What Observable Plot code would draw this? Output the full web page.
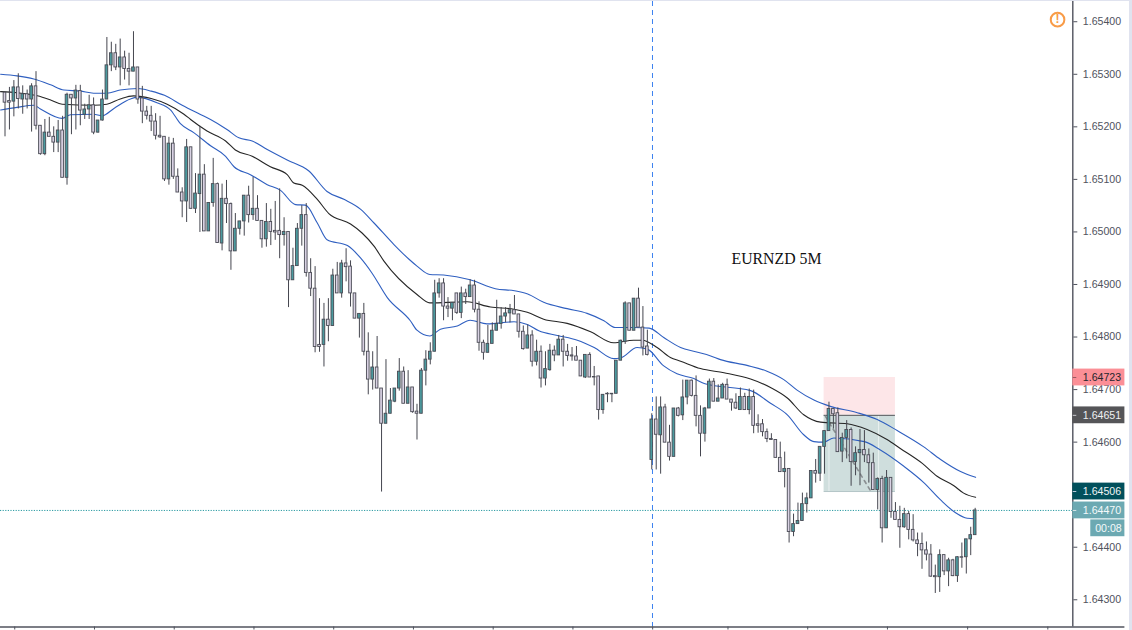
<!DOCTYPE html>
<html><head><meta charset="utf-8">
<script src="https://cdn.jsdelivr.net/npm/d3@7"></script>
<script src="https://cdn.jsdelivr.net/npm/@observablehq/plot@0.6"></script>
<style>
html,body{margin:0;padding:0;background:#e0e3ef;overflow:hidden}
#c{position:absolute;left:0;top:1px;width:1129px;height:629px;background:#fff}
svg{display:block;background:#fff}
</style></head><body><div id="c"></div>
<script>
// prices are stored as points above 1.64000 (1 point = 0.00001)
const base = 1.64;
const open = [1265,1249,1248,1275,1252,1262,1252,1277,1202,1148,
1189,1181,1170,1193,1103,1261,1254,1268,1223,1233,
1241,1189,1212,1252,1317,1340,1313,1332,1310,1305,
1313,1254,1229,1221,1210,1183,1181,1100,1168,1105,
1075,1058,1161,1044,1072,1109,1001,1055,1091,978,
1063,1053,963,1006,1020,1069,1032,1044,1021,986,
1019,1002,1002,994,1000,908,935,1006,1032,922,
892,785,785,833,821,917,883,940,934,883,
835,844,772,719,742,702,635,654,677,702,
734,673,704,658,654,736,757,772,883,902,
858,854,883,846,883,876,898,852,789,770,
787,812,825,839,845,851,843,810,778,803,
753,772,721,737,774,765,795,772,765,763,
755,723,766,724,725,661,692,692,692,755,
791,864,812,873,818,782,566,643,613,666,
599,572,664,651,685,717,688,650,616,664,
715,677,683,709,681,675,661,686,661,686,
634,634,619,606,604,570,543,549,429,444,
450,482,493,545,540,591,621,663,655,582,
608,623,562,579,585,575,560,509,530,436,
532,467,452,438,463,433,413,406,394,386,
345,343,385,354,375,345,381,381,415,423];
const close = [1246,1246,1275,1253,1262,1252,1277,1202,1148,1189,
1181,1170,1193,1103,1261,1254,1269,1231,1233,1241,
1189,1212,1252,1317,1340,1313,1332,1310,1305,1313,
1252,1229,1221,1210,1183,1180,1100,1168,1105,1075,
1058,1161,1044,1073,1109,1001,1055,1091,979,1063,
1053,963,1006,1020,1069,1032,1044,1021,986,1019,
1000,999,994,1000,908,935,1006,1032,922,892,
781,781,833,821,917,883,940,933,883,835,
844,772,719,742,702,635,654,679,702,734,
673,704,657,654,736,757,772,883,902,858,
854,865,846,883,876,898,852,789,770,787,
812,825,839,845,851,843,810,777,803,753,
772,721,739,774,765,795,772,764,763,755,
725,766,723,723,661,690,691,691,755,793,
864,812,873,818,780,766,643,614,666,599,
572,664,650,685,717,688,650,616,664,715,
677,683,709,681,675,664,686,661,686,631,
631,619,606,604,570,543,549,429,444,450,
482,493,545,540,591,621,663,653,581,608,
623,562,579,585,575,560,509,530,436,532,
467,452,438,463,433,413,406,394,386,344,
343,385,354,375,345,381,380,415,423,470];
const high = [1265,1275,1288,1301,1278,1270,1282,1305,1202,1214,
1218,1200,1212,1220,1264,1261,1279,1279,1243,1260,
1255,1212,1270,1370,1361,1357,1367,1344,1340,1381,
1313,1277,1239,1239,1225,1220,1181,1180,1178,1120,
1084,1176,1161,1111,1201,1128,1055,1140,1093,1091,
1098,1055,1035,1020,1069,1087,1104,1069,1021,1054,
1043,1058,1082,1027,1000,969,1016,1050,1054,949,
934,873,864,873,929,942,946,968,945,883,
844,864,808,772,801,702,757,702,702,759,
743,736,704,672,740,774,789,908,911,911,
875,865,883,895,891,909,908,867,794,822,
827,870,856,856,862,879,843,821,823,812,
794,783,772,786,783,803,803,786,780,782,
755,766,770,744,725,690,694,692,755,794,
867,864,873,893,858,813,654,686,686,672,
632,664,666,718,717,718,726,669,666,720,
721,709,712,720,681,692,703,693,701,699,
652,643,625,616,604,600,581,549,463,484,
503,503,546,567,591,621,676,663,665,617,
641,627,591,624,622,587,579,532,535,546,
532,485,478,474,468,462,427,427,410,405,
366,395,385,379,377,382,408,415,438,474];
const low = [1181,1194,1219,1234,1224,1234,1190,1194,1146,1145,
1181,1151,1151,1103,1089,1185,1194,1202,1214,1214,
1185,1188,1211,1252,1305,1307,1278,1289,1278,1305,
1243,1206,1213,1191,1175,1178,1096,1089,1100,1075,
1027,1018,1043,1035,999,1001,1001,1047,979,964,
1016,927,963,994,992,1017,1022,1021,969,971,
974,984,949,973,856,908,935,973,914,877,
770,771,743,791,821,883,874,905,857,835,
798,764,690,699,702,505,635,654,675,697,
673,673,655,604,654,707,747,772,874,831,
837,831,843,835,862,876,846,773,756,770,
787,812,815,827,827,843,798,775,778,743,
745,703,707,735,753,765,743,754,754,755,
725,721,723,707,642,653,675,675,692,755,
786,812,812,818,764,764,547,547,539,599,
564,572,648,641,671,686,629,572,600,664,
677,677,683,681,659,662,661,661,652,616,
617,610,599,604,570,543,513,408,420,444,
450,465,493,522,525,539,621,625,581,561,
568,516,536,517,561,522,509,471,408,436,
455,452,398,436,414,410,382,358,374,343,
312,314,346,325,344,333,360,349,384,423];

const upperAt = [-1,2.7,6.5,10.3,13.3,17,20,23,26,30,33,36,40,44,46.4,50.1,52.8,55.8,59.2,63.7,68.6,72.7,76.5,80.3,83.3,87.8,91.2,93,95.9,99,105,110.7,115,118,121.6,126.9,131.4,135.2,137.8,141.9,145.4,148.7,152.5,155.9,159.3,161.5,167.5,172,175.8,178.8,182.6,186.3,192.4,196.9,201.4,207.4,211.2,215.7,219.1];
const upperVal = [1300,1297,1291,1280,1270,1268,1264,1264,1270,1273,1268,1260,1241,1224,1214,1195,1179,1173,1157,1137,1116,1077,1062,1043,1017,976,948,935,919,918,909,892,888,882,866,854,845,831,818,818,817,799,780,772,764,757,746,735,719,699,680,668,656,643,622,591,567,544,533];
const middleAt = [-1,2.7,7.3,10.3,12.9,20,23,26,29,33,36.6,40.4,41.9,45.6,49.8,52,55.8,59.9,63.7,65.2,67.1,70.5,73.1,78,80.6,83.3,85.5,93,95.9,104.3,109.6,114.9,117.9,121.6,126.9,132.2,137.4,141.9,143.8,147.2,150.2,152.5,157,162.3,168.3,172.8,176.6,180.3,184.1,190.1,194.6,199.1,202.1,207,210.4,214.2,216.4,219.1];
const middleVal = [1267,1265,1259,1251,1243,1241,1243,1253,1259,1254,1243,1224,1214,1192,1173,1156,1144,1124,1109,1093,1089,1062,1035,1015,998,973,945,881,865,867,857,853,847,834,826,810,789,794,794,780,761,754,740,732,720,704,684,652,638,635,624,605,588,560,535,517,503,495];
const lowerAt = [-1,2.7,6.5,8,12.9,14.8,20,21.9,24.6,28.3,29.8,34.3,37.4,39.6,42.6,46.4,49.8,51.7,55.4,59.2,62.2,65.6,67.8,70.5,72.7,77.3,80.3,82.9,86.3,91.5,93,95.9,98.3,102.1,105,108.8,114.9,117.9,120.5,124.7,129.2,133,137.4,138.9,142.7,145,148.7,151.7,155.5,158,168.3,172.8,176.6,180.3,182.6,184.8,187.1,194,197.6,202.9,207.4,211.2,214.5,217.2,219.1];
const lowerVal = [1232,1237,1241,1234,1216,1223,1224,1221,1235,1253,1256,1246,1232,1206,1189,1164,1144,1124,1109,1090,1079,1052,1051,1017,985,974,950,921,875,831,813,802,815,821,832,825,829,824,812,803,794,780,759,760,780,777,745,730,721,711,698,674,652,614,601,600,608,601,585,554,523,490,466,455,454];

const priceTicks = [300,400,600,700,800,900,1000,1100,1200,1300,1400];
const timeTicks = [2.2,20.2,38.2,56.2,74.2,92.2,110.2,128.2,146.2,163.2,181.2,199.2,217.3,235.4];
const sessionLine = [146.16];

const slStop = 723, entry = 651, target = 506, lastPrice = 470;
const boxFrom = 185, boxTo = 201;         // bar index of the position tool
const tradePathAt = [185.2,195.4], tradePathVal = [649,507];
const priceBadges = [
  {v:723,t:"1.64723",bg:"#fb8f96",fg:"#26262e",tick:"#9a5a60"},
  {v:651,t:"1.64651",bg:"#555558",fg:"#eef0f2",tick:"#c8c8cc"},
  {v:506,t:"1.64506",bg:"#01505c",fg:"#eef4f5",tick:"#bcd"},
  {v:470,t:"1.64470",bg:"#6ca9b2",fg:"#f4f9fa",tick:"#d8e8ea"}
];
const countdown = {v:436,t:"00:08"};
const caption = {i:164.0,v:949,t:"EURNZD 5M"};
const alertAt = {i:237.6,v:1404};

const P = n => base + n/1e5;
const bars = open.map((o,i)=>({i,o:P(o),h:P(high[i]),l:P(low[i]),c:P(close[i])}));
const series = (xs,vs)=>xs.map((x,k)=>({x,y:P(vs[k])}));

const axisEnd = 241.04, frameEnd = 252.8, labelAt = 243.3;
const font = "'Liberation Sans',Arial,sans-serif";
const axisColor = "#50535e";
const halfW = 0.3;

const chart = Plot.plot({
  width:1129, height:629, marginTop:0, marginRight:56.7, marginBottom:3.5, marginLeft:0,
  x:{domain:[-1.016,axisEnd],axis:null},
  y:{domain:[P(248.2),P(1438.5)],axis:null},
  style:{background:"#fff",fontFamily:font},
  marks:[
    // position tool
    Plot.rect([0],{x1:boxFrom-0.1,x2:boxTo,y1:P(entry),y2:P(slStop),fill:"#fde6e8"}),
    Plot.rect([0],{x1:boxFrom-0.1,x2:boxTo,y1:P(target),y2:P(entry),fill:"#cfdedd"}),
    Plot.ruleX([186,197.2],{y1:P(target),y2:P(entry),stroke:"#fff",strokeOpacity:.55}),
    Plot.ruleY([P(entry)],{x1:boxFrom-0.1,x2:boxTo,stroke:"#57575c",strokeWidth:1}),
    Plot.ruleY([P(target)],{x1:boxFrom-0.1,x2:boxTo,stroke:"#b4c6c8",strokeWidth:1}),
    Plot.line(series(tradePathAt,tradePathVal),{x:"x",y:"y",stroke:"#8a8f92",strokeWidth:1.6,strokeDasharray:"3.5 4"}),
    // session line & last price
    Plot.ruleX(sessionLine,{stroke:"#3d82f0",strokeWidth:1,strokeDasharray:"5 4"}),
    Plot.ruleY([P(lastPrice)],{x1:-1.016,x2:axisEnd,stroke:"#2a9ba2",strokeWidth:1,strokeDasharray:"1.2 1.4"}),
    // moving averages
    Plot.line(series(upperAt,upperVal),{x:"x",y:"y",stroke:"#2f5fc0",strokeWidth:1.1,curve:"monotone-x"}),
    Plot.line(series(lowerAt,lowerVal),{x:"x",y:"y",stroke:"#2f5fc0",strokeWidth:1.1,curve:"monotone-x"}),
    Plot.line(series(middleAt,middleVal),{x:"x",y:"y",stroke:"#262626",strokeWidth:1.1,curve:"monotone-x"}),
    // candles
    Plot.ruleX(bars,{x:"i",y1:"l",y2:"h",stroke:"#45464f",strokeWidth:1}),
    Plot.rect(bars,{x1:d=>d.i-halfW,x2:d=>d.i+halfW,y1:"o",y2:"c",
      fill:d=>d.c>=d.o?"#4b9a9e":"#d9d2e3",stroke:"#4a4b55",strokeWidth:.9}),
    // text on the chart
    Plot.text([caption],{x:"i",y:d=>P(d.v),text:"t",textAnchor:"start",fontFamily:"'Liberation Serif',serif",fontSize:15.8,fill:"#111"}),
    Plot.dot([alertAt],{x:"i",y:d=>P(d.v),r:6.8,stroke:"#f89b47",strokeWidth:2,fill:"none"}),
    Plot.text([alertAt],{x:"i",y:d=>P(d.v),text:()=>"!",fontSize:12,fontWeight:"bold",fill:"#f89b47"}),
    // axes
    Plot.ruleX([axisEnd],{stroke:axisColor,strokeWidth:1.4}),
    Plot.ruleY([P(248.2)],{x1:-1.016,x2:frameEnd,stroke:axisColor,strokeWidth:1.4}),
    Plot.axisX({ticks:timeTicks,tickSize:3,tickFormat:()=>"",label:null,stroke:axisColor}),
    Plot.axisY({anchor:"right",ticks:priceTicks.map(P),tickSize:4,tickPadding:6,
      tickFormat:d=>d.toFixed(5),label:null,stroke:axisColor,fill:"#50535e",fontSize:10.6}),
    // price badges
    Plot.rect(priceBadges,{x1:axisEnd,x2:frameEnd,y1:d=>P(d.v-16),y2:d=>P(d.v+16),fill:"bg"}),
    Plot.ruleY(priceBadges,{y:d=>P(d.v),x1:axisEnd+.1,x2:axisEnd+.9,stroke:"tick"}),
    Plot.text(priceBadges,{x:labelAt,y:d=>P(d.v),text:"t",textAnchor:"start",fill:"fg",fontSize:10.6}),
    Plot.rect([countdown],{x1:245.1,x2:frameEnd,y1:d=>P(d.v-16),y2:d=>P(d.v+16),fill:"#6ca9b2"}),
    Plot.text([countdown],{x:246.1,y:d=>P(d.v),text:"t",textAnchor:"start",fill:"#f4f9fa",fontSize:10.6})
  ]
});
document.getElementById("c").appendChild(chart);
</script></body></html>
